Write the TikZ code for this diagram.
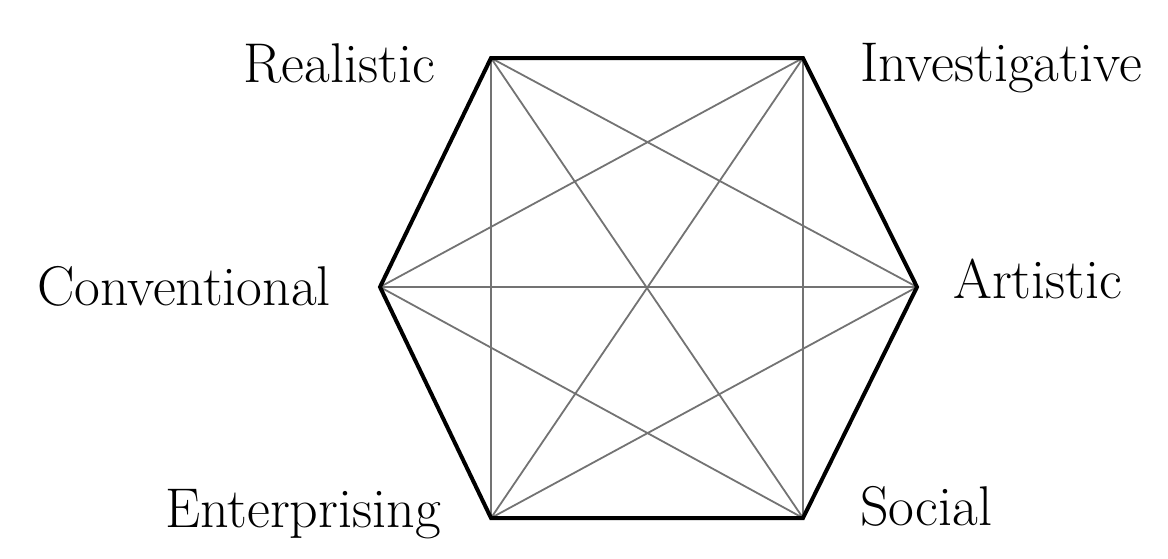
\documentclass[tikz,border=0pt]{standalone}
\begin{document}
\begin{tikzpicture}[x=1pt,y=-1pt,
  outer/.style={line width=4pt,line join=miter,black},
  inner/.style={line width=1.8pt,black!55},
  lbl/.style={inner sep=0pt,font=\fontsize{56}{66}\selectfont}]
\useasboundingbox (0,0) rectangle (1168,558);
\coordinate (R) at (491,58);
\coordinate (I) at (803,58);
\coordinate (A) at (917,287);
\coordinate (S) at (803,518);
\coordinate (E) at (491,518);
\coordinate (C) at (380,287);
\draw[inner] (R) -- (A) (R) -- (S) (R) -- (E)
  (I) -- (S) (I) -- (E) (I) -- (C)
  (A) -- (E) (A) -- (C) (S) -- (C);
\draw[outer] (R) -- (I) -- (A) -- (S) -- (E) -- (C) -- cycle;
\node[lbl,anchor=base east] (lR) at (435,82) {Realistic};
\node[lbl,anchor=base west] (lI) at (860,81) {Investigative};
\node[lbl,anchor=base east] (lC) at (331,305) {Conventional};
\node[lbl,anchor=base west] (lA) at (953,298) {Artistic};
\node[lbl,anchor=base east] (lE) at (441,527) {Enterprising};
\node[lbl,anchor=base west] (lS) at (860,525) {Social};
\end{tikzpicture}
\end{document}
